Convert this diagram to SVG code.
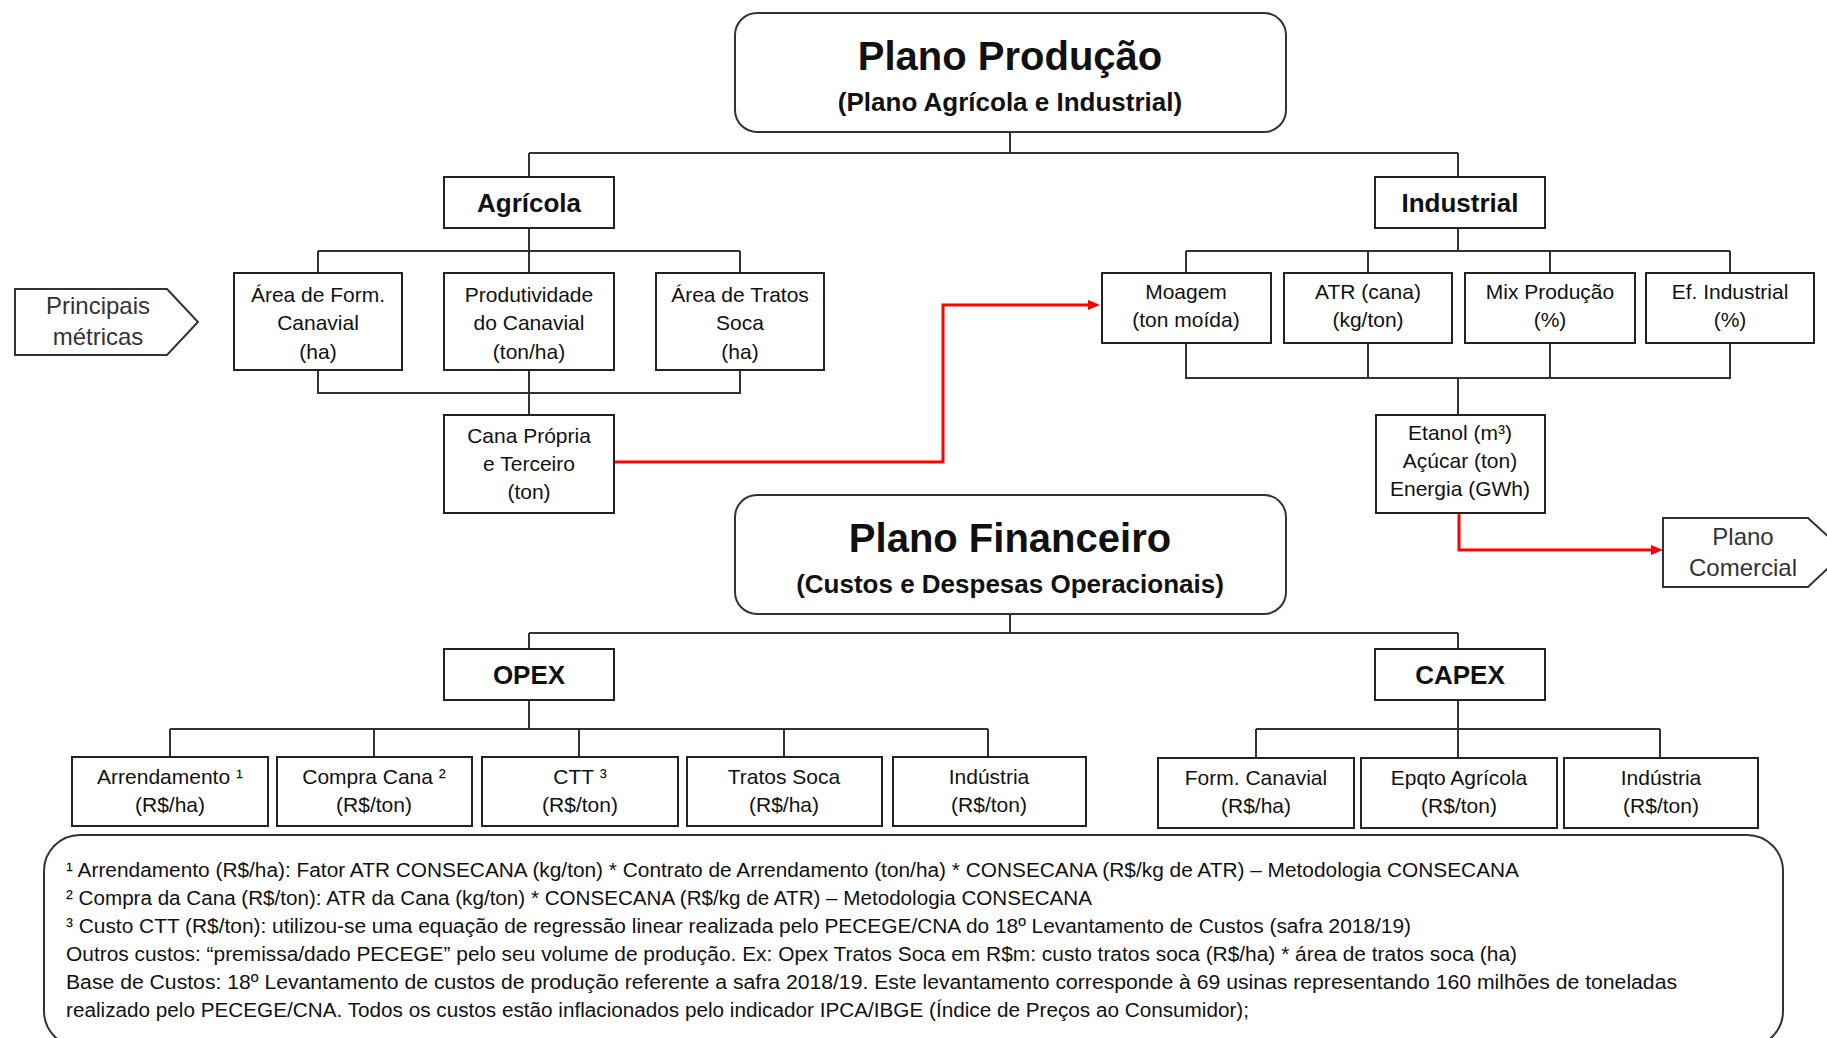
<svg xmlns="http://www.w3.org/2000/svg" width="1827" height="1038" viewBox="0 0 1827 1038">
  <style>
    text { font-family: "Liberation Sans", Arial, sans-serif; fill: #111; text-anchor: middle; }
    .box { fill: #fff; stroke: #222; stroke-width: 2; }
    .plan { fill: #fff; stroke: #333; stroke-width: 2; }
    .tag { fill: #fff; stroke: #333; stroke-width: 2; }
    .title { font-size: 40px; font-weight: bold; }
    .sub { font-size: 26px; font-weight: bold; }
    .head { font-size: 26px; font-weight: bold; }
    .lbl { font-size: 21px; }
    .tagtxt { font-size: 24px; fill: #333; }
    .note { font-size: 20px; text-anchor: start; fill: #111; }
    .wire { fill: none; stroke: #333; stroke-width: 2; }
    .flow { fill: none; stroke: #ff0000; stroke-width: 3; }
  </style>
  <defs>
    <marker id="redArrow" markerUnits="userSpaceOnUse" markerWidth="12" markerHeight="10" refX="2" refY="5" orient="auto">
      <path d="M0,0 L12,5 L0,10 z" fill="#ff0000"/>
    </marker>
  </defs>

  <rect width="1827" height="1038" fill="#fff"/>

  <!-- tree connectors and red flows -->
  <g id="connectors">
    <path class="wire" d="M1010,132 V153 M529,153 H1458 M529,153 V177 M1458,153 V177"/>
    <path class="wire" d="M529,228 V251 M318,251 H740 M318,251 V273 M529,251 V273 M740,251 V273"/>
    <path class="wire" d="M318,370 V393 H740 V370 M529,370 V415"/>
    <path class="wire" d="M1458,228 V251 M1186,251 H1730 M1186,251 V273 M1368,251 V273 M1550,251 V273 M1730,251 V273"/>
    <path class="wire" d="M1186,343 V378 H1730 V343 M1368,343 V378 M1550,343 V378 M1458,378 V415"/>
    <path class="wire" d="M1010,614 V633 M529,633 H1458 M529,633 V649 M1458,633 V649"/>
    <path class="wire" d="M529,700 V729 M170,729 H988 M170,729 V757 M374,729 V757 M579,729 V757 M784,729 V757 M988,729 V757"/>
    <path class="wire" d="M1458,700 V729 M1256,729 H1660 M1256,729 V758 M1458,729 V758 M1660,729 V758"/>
    <path class="flow" d="M614,462 H943 V305 H1090" marker-end="url(#redArrow)"/>
    <path class="flow" d="M1459,513 V550 H1653" marker-end="url(#redArrow)"/>
  </g>

  <g id="plano-producao">
    <rect class="plan" x="735" y="13" width="551" height="119" rx="22"/>
    <text class="title" x="1010" y="70">Plano Produção</text>
    <text class="sub" x="1010" y="111">(Plano Agrícola e Industrial)</text>
  </g>

  <g id="agricola">
    <rect class="box" x="444" y="177" width="170" height="51"/>
    <text class="head" x="529" y="212">Agrícola</text>
  </g>

  <g id="industrial">
    <rect class="box" x="1375" y="177" width="170" height="51"/>
    <text class="head" x="1460" y="212">Industrial</text>
  </g>

  <g id="principais-metricas">
    <path class="tag" d="M15,289 H167 L198,322 L167,355 H15 Z"/>
    <text class="tagtxt" x="98" y="314">Principais</text>
    <text class="tagtxt" x="98" y="345">métricas</text>
  </g>

  <g id="area-form">
    <rect class="box" x="234" y="273" width="168" height="97"/>
    <text class="lbl" x="318" y="302">Área de Form.</text>
    <text class="lbl" x="318" y="330">Canavial</text>
    <text class="lbl" x="318" y="359">(ha)</text>
  </g>

  <g id="produtividade">
    <rect class="box" x="444" y="273" width="170" height="97"/>
    <text class="lbl" x="529" y="302">Produtividade</text>
    <text class="lbl" x="529" y="330">do Canavial</text>
    <text class="lbl" x="529" y="359">(ton/ha)</text>
  </g>

  <g id="area-tratos">
    <rect class="box" x="656" y="273" width="168" height="97"/>
    <text class="lbl" x="740" y="302">Área de Tratos</text>
    <text class="lbl" x="740" y="330">Soca</text>
    <text class="lbl" x="740" y="359">(ha)</text>
  </g>

  <g id="cana-propria">
    <rect class="box" x="444" y="415" width="170" height="98"/>
    <text class="lbl" x="529" y="443">Cana Própria</text>
    <text class="lbl" x="529" y="471">e Terceiro</text>
    <text class="lbl" x="529" y="499">(ton)</text>
  </g>

  <g id="moagem">
    <rect class="box" x="1102" y="273" width="169" height="70"/>
    <text class="lbl" x="1186" y="299">Moagem</text>
    <text class="lbl" x="1186" y="327">(ton moída)</text>
  </g>

  <g id="atr">
    <rect class="box" x="1284" y="273" width="168" height="70"/>
    <text class="lbl" x="1368" y="299">ATR (cana)</text>
    <text class="lbl" x="1368" y="327">(kg/ton)</text>
  </g>

  <g id="mix-producao">
    <rect class="box" x="1465" y="273" width="170" height="70"/>
    <text class="lbl" x="1550" y="299">Mix Produção</text>
    <text class="lbl" x="1550" y="327">(%)</text>
  </g>

  <g id="ef-industrial">
    <rect class="box" x="1646" y="273" width="168" height="70"/>
    <text class="lbl" x="1730" y="299">Ef. Industrial</text>
    <text class="lbl" x="1730" y="327">(%)</text>
  </g>

  <g id="produtos">
    <rect class="box" x="1376" y="415" width="169" height="98"/>
    <text class="lbl" x="1460" y="440">Etanol (m³)</text>
    <text class="lbl" x="1460" y="468">Açúcar (ton)</text>
    <text class="lbl" x="1460" y="496">Energia (GWh)</text>
  </g>

  <g id="plano-comercial">
    <path class="tag" d="M1663,518 H1808 L1845,552 L1808,587 H1663 Z"/>
    <text class="tagtxt" x="1743" y="545">Plano</text>
    <text class="tagtxt" x="1743" y="576">Comercial</text>
  </g>

  <g id="plano-financeiro">
    <rect class="plan" x="735" y="495" width="551" height="119" rx="22"/>
    <text class="title" x="1010" y="552">Plano Financeiro</text>
    <text class="sub" x="1010" y="593">(Custos e Despesas Operacionais)</text>
  </g>

  <g id="opex">
    <rect class="box" x="444" y="649" width="170" height="51"/>
    <text class="head" x="529" y="684">OPEX</text>
  </g>

  <g id="capex">
    <rect class="box" x="1375" y="649" width="170" height="51"/>
    <text class="head" x="1460" y="684">CAPEX</text>
  </g>

  <g id="arrendamento">
    <rect class="box" x="72" y="757" width="196" height="69"/>
    <text class="lbl" x="170" y="784">Arrendamento ¹</text>
    <text class="lbl" x="170" y="812">(R$/ha)</text>
  </g>

  <g id="compra-cana">
    <rect class="box" x="277" y="757" width="195" height="69"/>
    <text class="lbl" x="374" y="784">Compra Cana ²</text>
    <text class="lbl" x="374" y="812">(R$/ton)</text>
  </g>

  <g id="ctt">
    <rect class="box" x="482" y="757" width="196" height="69"/>
    <text class="lbl" x="580" y="784">CTT ³</text>
    <text class="lbl" x="580" y="812">(R$/ton)</text>
  </g>

  <g id="tratos-soca">
    <rect class="box" x="687" y="757" width="195" height="69"/>
    <text class="lbl" x="784" y="784">Tratos Soca</text>
    <text class="lbl" x="784" y="812">(R$/ha)</text>
  </g>

  <g id="opex-industria">
    <rect class="box" x="893" y="757" width="193" height="69"/>
    <text class="lbl" x="989" y="784">Indústria</text>
    <text class="lbl" x="989" y="812">(R$/ton)</text>
  </g>

  <g id="form-canavial">
    <rect class="box" x="1158" y="758" width="196" height="70"/>
    <text class="lbl" x="1256" y="785">Form. Canavial</text>
    <text class="lbl" x="1256" y="813">(R$/ha)</text>
  </g>

  <g id="epqto-agricola">
    <rect class="box" x="1361" y="758" width="196" height="70"/>
    <text class="lbl" x="1459" y="785">Epqto Agrícola</text>
    <text class="lbl" x="1459" y="813">(R$/ton)</text>
  </g>

  <g id="capex-industria">
    <rect class="box" x="1564" y="758" width="194" height="70"/>
    <text class="lbl" x="1661" y="785">Indústria</text>
    <text class="lbl" x="1661" y="813">(R$/ton)</text>
  </g>

  <g id="notas">
    <rect class="plan" x="44" y="835" width="1739" height="212" rx="36"/>
    <text class="note" x="66" y="877" textLength="1453" lengthAdjust="spacingAndGlyphs">¹ Arrendamento (R$/ha): Fator ATR CONSECANA (kg/ton) * Contrato de Arrendamento (ton/ha) * CONSECANA (R$/kg de ATR) – Metodologia CONSECANA</text>
    <text class="note" x="66" y="905" textLength="1026" lengthAdjust="spacingAndGlyphs">² Compra da Cana (R$/ton): ATR da Cana (kg/ton) * CONSECANA (R$/kg de ATR)  – Metodologia CONSECANA</text>
    <text class="note" x="66" y="933" textLength="1345" lengthAdjust="spacingAndGlyphs">³ Custo CTT (R$/ton): utilizou-se uma equação de regressão linear realizada pelo PECEGE/CNA do 18º Levantamento de Custos (safra 2018/19)</text>
    <text class="note" x="66" y="961" textLength="1451" lengthAdjust="spacingAndGlyphs">Outros custos: “premissa/dado PECEGE” pelo seu volume de produção. Ex: Opex Tratos Soca em R$m: custo tratos soca (R$/ha) * área de tratos soca (ha)</text>
    <text class="note" x="66" y="989" textLength="1611" lengthAdjust="spacingAndGlyphs">Base de Custos: 18º Levantamento de custos de produção referente a safra 2018/19. Este levantamento corresponde à 69 usinas representando 160 milhões de toneladas</text>
    <text class="note" x="66" y="1017" textLength="1183" lengthAdjust="spacingAndGlyphs">realizado pelo PECEGE/CNA. Todos os custos estão inflacionados pelo indicador IPCA/IBGE (Índice de Preços ao Consumidor);</text>
  </g>
</svg>
